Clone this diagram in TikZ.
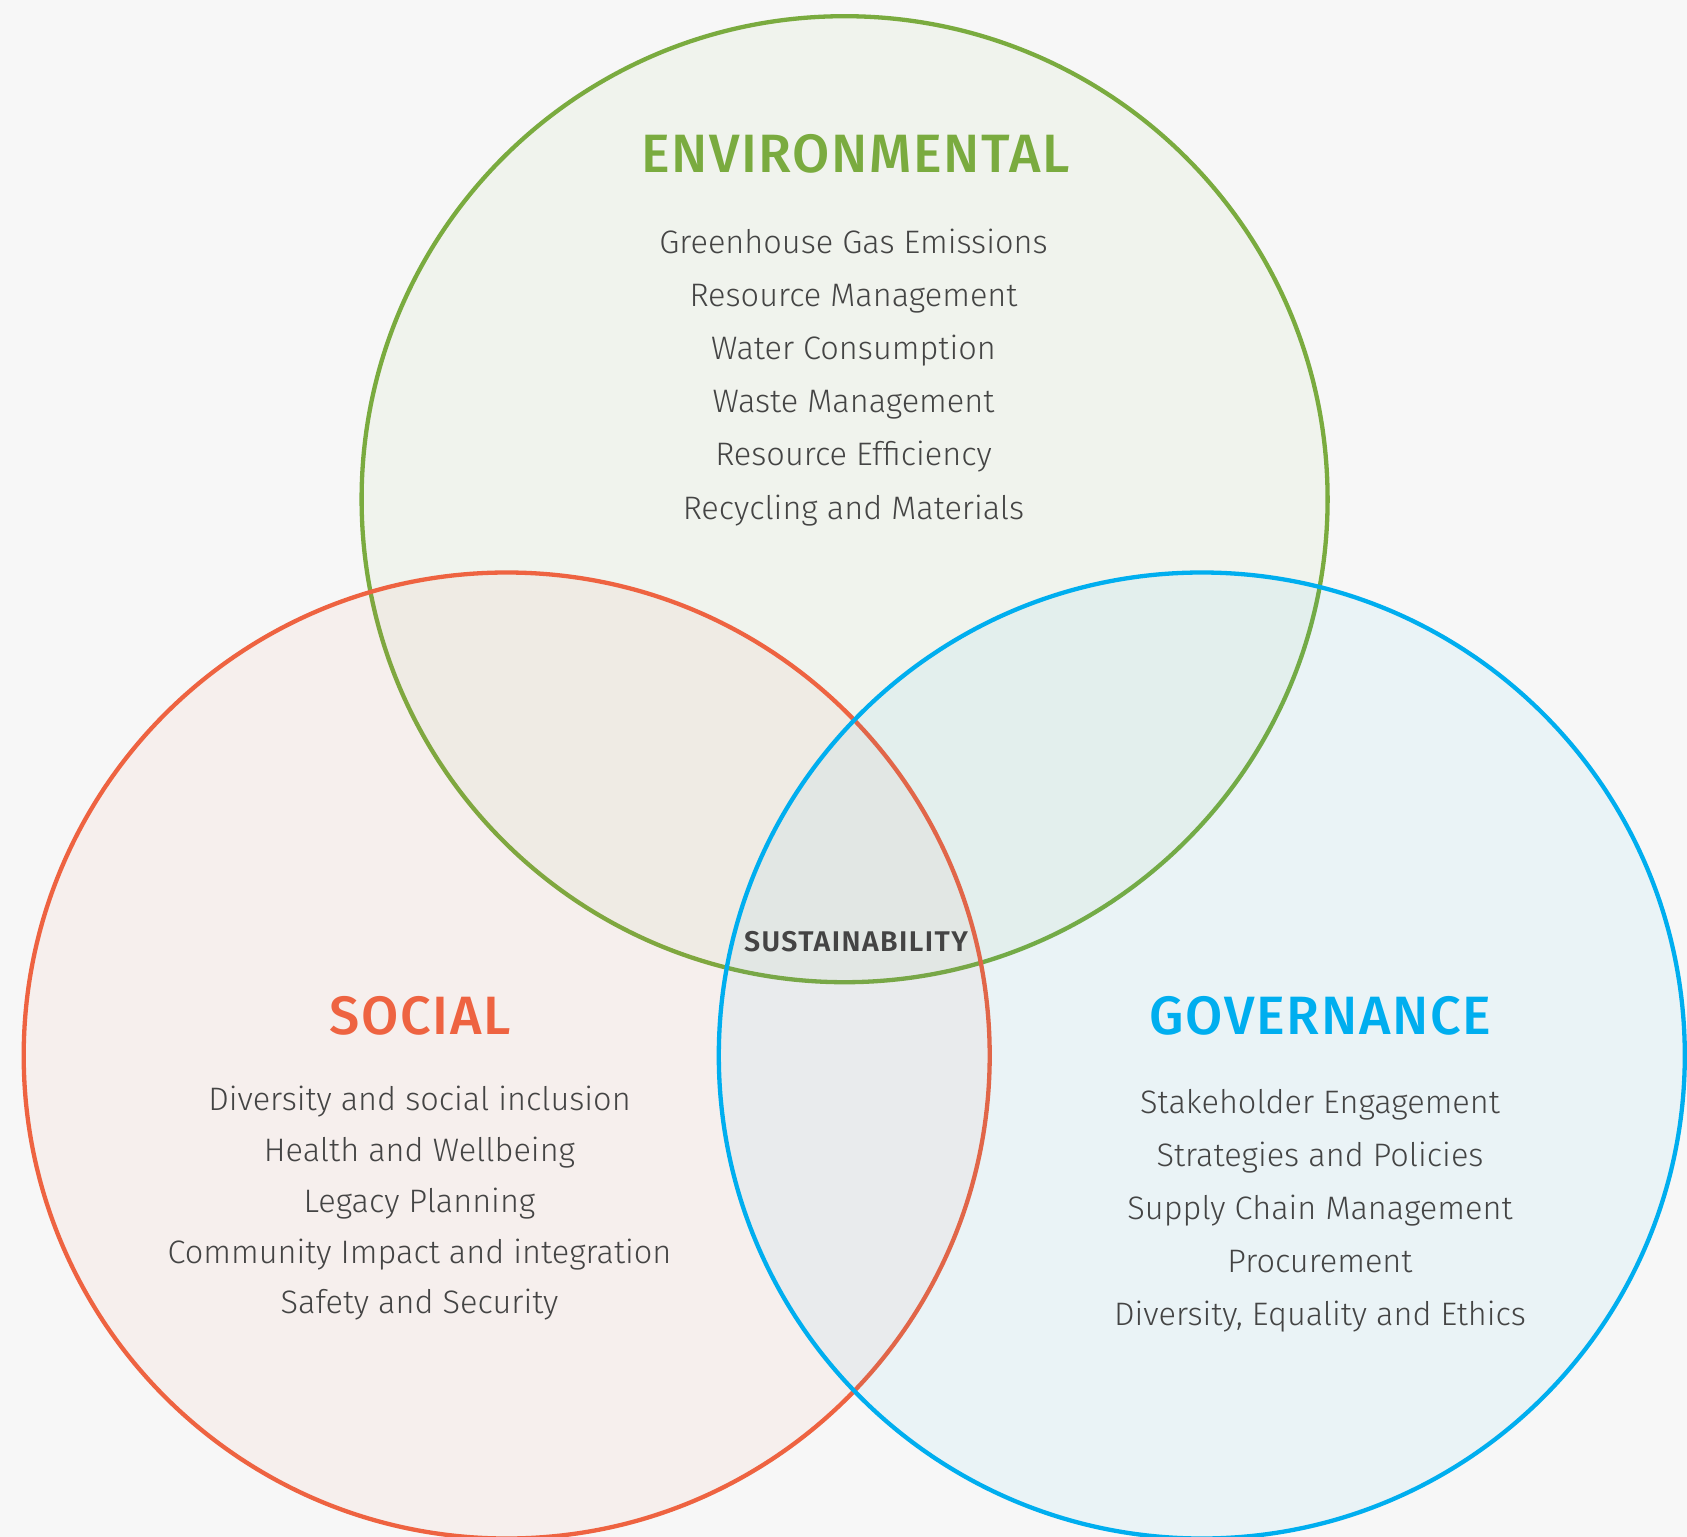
\documentclass[tikz,border=0pt]{standalone}
\usepackage{fontspec}
\setmainfont{Fira Sans}[UprightFont=* Light, BoldFont=* Medium]
\newfontfamily\spaced{Fira Sans Medium}[LetterSpace=3]
\newfontfamily\widespaced{Fira Sans SemiBold}[LetterSpace=5]
\definecolor{envgreen}{HTML}{7AAB3F}
\definecolor{socred}{HTML}{EE6341}
\definecolor{govblue}{HTML}{00AEEF}
\definecolor{txtgrey}{HTML}{444444}
\definecolor{bggrey}{HTML}{F7F7F7}
\tikzset{
  ring/.style={line width=4.3pt, fill opacity=0.05},
  heading/.style={anchor=base, font=\spaced\fontsize{54}{60}\selectfont},
  item/.style={anchor=base, text=txtgrey, font=\fontsize{32.5}{38}\selectfont},
}
\begin{document}
\begin{tikzpicture}[x=1pt, y=-1pt]
\useasboundingbox (0,0) rectangle (1687,1537);
\fill[bggrey] (0,0) rectangle (1687,1537);
\clip (0,0) rectangle (1687,1537);
\coordinate (env) at (844.6, 499.2);
\coordinate (soc) at (506.7, 1055.5);
\coordinate (gov) at (1201.8, 1055.5);

\draw[ring, envgreen, fill=envgreen] (env) circle[radius=483pt];
\draw[ring, socred, fill=socred] (soc) circle[radius=483pt];
\draw[ring, govblue, fill=govblue] (gov) circle[radius=483pt];

% headings
\node[heading, text=envgreen] (envtitle) at (855.5, 172.7) {ENVIRONMENTAL};
\node[heading, text=socred] (soctitle) at (420, 1034) {SOCIAL};
\node[heading, text=govblue] (govtitle) at (1320.5, 1034) {GOVERNANCE};
\node[anchor=base, text=txtgrey, font=\widespaced\fontsize{28.5}{32}\selectfont] (core) at (856, 951.7) {SUSTAINABILITY};

% lists
\foreach \t [count=\i] in {Greenhouse Gas Emissions, Resource Management, Water Consumption,
  Waste Management, Resource Efficiency, Recycling and Materials}
  \node[item] (env\i) at (853.5, 253+53.2*\i-53.2) {\t};
\foreach \t [count=\i] in {Diversity and social inclusion, Health and Wellbeing, Legacy Planning,
  Community Impact and integration, Safety and Security}
  \node[item] (soc\i) at (419.5, 1110.6+50.8*\i-50.8) {\t};
\foreach \t [count=\i] in {Stakeholder Engagement, Strategies and Policies, Supply Chain Management,
  Procurement, {Diversity, Equality and Ethics}}
  \node[item] (gov\i) at (1320, 1113.9+53*\i-53) {\t};
\end{tikzpicture}
\end{document}
